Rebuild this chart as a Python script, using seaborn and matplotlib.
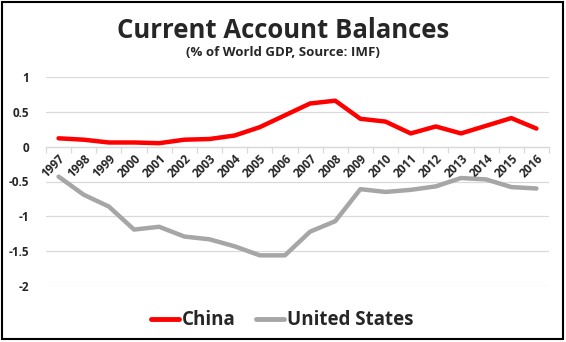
import matplotlib
matplotlib.use("Agg")
import matplotlib.pyplot as plt
from matplotlib.patches import Rectangle
from matplotlib.ticker import FixedLocator
import seaborn as sns
import pandas as pd

years = [str(y) for y in range(1997, 2017)]
china = [0.12, 0.10, 0.06, 0.06, 0.05, 0.10, 0.11, 0.16, 0.28, 0.45,
         0.62, 0.66, 0.40, 0.36, 0.19, 0.29, 0.19, 0.30, 0.41, 0.26]
us = [-0.43, -0.69, -0.86, -1.19, -1.15, -1.29, -1.33, -1.43, -1.56, -1.56,
      -1.22, -1.07, -0.61, -0.65, -0.62, -0.57, -0.45, -0.47, -0.58, -0.60]
series_names = ["China", "United States"]
y_ticks = [1, 0.5, 0, -0.5, -1, -1.5, -2]
y_tick_labels = ["1", "0.5", "0", "-0.5", "-1", "-1.5", "-2"]

sns.set_theme(style="white")
plt.rcParams['font.family'] = ['Open Sans', 'DejaVu Sans']

df = pd.DataFrame({
    "idx": list(range(len(years))) * 2,
    "value": china + us,
    "series": [series_names[0]] * len(years) + [series_names[1]] * len(years),
})

fig = plt.figure(figsize=(5.66, 3.42), dpi=100)
ax = fig.add_axes([46/566, 1 - 286/342, (549 - 46)/566, (286 - 77)/342])

sns.lineplot(data=df, x="idx", y="value", hue="series",
             palette={"China": "#FF0000", "United States": "#A6A6A6"},
             linewidth=3.2, ax=ax, legend=True)

ax.set_xlim(-0.5, len(years) - 0.5)
ax.set_ylim(-2, 1)
ax.set_yticks(y_ticks)
ax.set_yticklabels(y_tick_labels, fontsize=8.5, fontweight='bold')
ax.yaxis.grid(True, color="#D9D9D9", linewidth=0.9)
ax.set_axisbelow(True)
ax.set_xlabel("")
ax.set_ylabel("")
for s in ["top", "right", "left"]:
    ax.spines[s].set_visible(False)
ax.spines["bottom"].set_position(("data", 0))
ax.spines["bottom"].set_color("#D9D9D9")
ax.spines["bottom"].set_linewidth(0.9)

ax.set_xticks(list(range(len(years))))
ax.set_xticklabels(years, rotation=45, ha="right", rotation_mode="anchor",
                   fontsize=8.5, fontweight='bold')
ax.xaxis.set_minor_locator(FixedLocator([i - 0.5 for i in range(len(years) + 1)]))
ax.tick_params(axis="x", which="major", length=0, pad=4)
ax.tick_params(axis="x", which="minor", length=4, color="#D9D9D9", width=0.9, direction="out", bottom=True)
ax.tick_params(axis="y", length=0, pad=12)

leg = ax.legend(loc="center", bbox_to_anchor=(0.47, -0.165), ncol=2, frameon=False,
                prop={'weight': 'bold', 'size': 13.5}, handlelength=1.5,
                handletextpad=0.15, columnspacing=1.1)
for line in leg.get_lines():
    line.set_linewidth(3.5)

fig.text(0.5, 1 - 30/342, "Current Account Balances", ha="center", va="center",
         fontsize=18.5, fontweight='bold')
fig.text(0.5, 1 - 53/342, "(% of World GDP, Source: IMF)", ha="center", va="center",
         fontsize=9.5, fontweight='bold')

fig.patches.append(Rectangle((1.5/566, 1 - 339/342), (563 - 1.5)/566, (339 - 1.5)/342,
                             transform=fig.transFigure, fill=False,
                             edgecolor="black", linewidth=1.5))

fig.savefig("out.png", dpi=100)
